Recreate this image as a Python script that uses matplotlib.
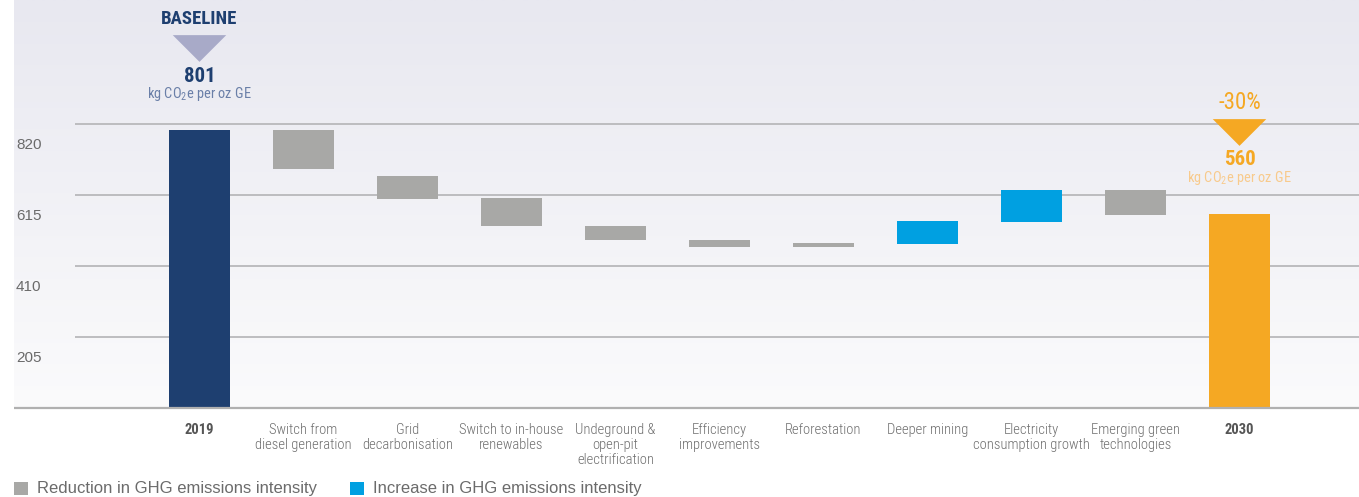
import numpy as np
import matplotlib
matplotlib.use("Agg")
import matplotlib.pyplot as plt
from matplotlib.patches import Rectangle
from matplotlib.path import Path
from matplotlib.transforms import ScaledTranslation, blended_transform_factory
from matplotlib import font_manager

# ---------------- data ----------------
categories = ["2019", "Switch from\ndiesel generation", "Grid\ndecarbonisation",
              "Switch to in-house\nrenewables", "Undeground &\nopen-pit\nelectrification",
              "Efficiency\nimprovements", "Reforestation", "Deeper mining",
              "Electricity\nconsumption growth", "Emerging green\ntechnologies", "2030"]
bar_low = [0, 690, 603, 525, 485, 465, 465, 473, 537, 557, 0]
bar_high = [801, 801, 669, 606, 525, 485, 476, 540, 629, 629, 560]
kinds = ["baseline", "reduction", "reduction", "reduction", "reduction", "reduction",
         "reduction", "increase", "increase", "reduction", "target"]
y_ticks = [205, 410, 615, 820]
baseline_value = "801"
target_value = "560"
target_change = "-30%"
unit_label = "kg CO$_2$e per oz GE"
legend_labels = ["Reduction in GHG emissions intensity", "Increase in GHG emissions intensity"]

# ---------------- style ----------------
avail = {f.name for f in font_manager.fontManager.ttflist}
COND = "Roboto Condensed" if "Roboto Condensed" in avail else "Liberation Sans"
REG = "Liberation Sans"
plt.rcParams["font.family"] = [COND, "DejaVu Sans"]
plt.rcParams["mathtext.fontset"] = "custom"
plt.rcParams["mathtext.rm"] = COND
plt.rcParams["mathtext.default"] = "rm"

colors = {"baseline": "#1e3f70", "reduction": "#a8a8a6", "increase": "#00a0e1", "target": "#f5a823"}
NAVY = "#1e3f70"
ORANGE = "#f5a823"

W, H = 1359, 497
fig = plt.figure(figsize=(W / 100, H / 100), dpi=100)
fig.patch.set_facecolor("white")

base_px = 408          # baseline pixel row
scale = 0.3466         # pixels per unit
left_px = 14
x0_px, dx_px = 199.5, 104.0
ymax = base_px / scale
xmin = (left_px - x0_px) / dx_px
xmax = (W - x0_px) / dx_px

ax = fig.add_axes([left_px / W, (H - base_px) / H, 1 - left_px / W, base_px / H])
ax.set_xlim(xmin, xmax)
ax.set_ylim(0, ymax)
ax.axis("off")

# gradient background
top_c = np.array([232, 232, 240]) / 255
bot_c = np.array([251, 251, 252]) / 255
t = np.linspace(0, 1, 256)[:, None]
grad = top_c[None, :] * (1 - t) + bot_c[None, :] * t
grad = np.repeat(grad[:, None, :], 2, axis=1)
ax.imshow(grad, extent=[xmin, xmax, 0, ymax], aspect="auto", zorder=0, interpolation="bilinear")

# gridlines
grid_start = (75 - x0_px) / dx_px
ax.hlines(y_ticks, grid_start, xmax, colors="#b8b8bb", linewidth=1.3, zorder=1)
ax.hlines([0], xmin, xmax, colors="#b0b0b0", linewidth=1.6, zorder=3, clip_on=False)

# y tick labels (drawn below their gridlines, as in the reference)
ylab_tr = blended_transform_factory(fig.transFigure, ax.transData) + \
    ScaledTranslation(0, -21 / 100, fig.dpi_scale_trans)
for v in y_ticks:
    ax.text(16 / W, v, str(v), transform=ylab_tr, ha="left", va="center",
            fontsize=11, color="#6a6a6a", family=[REG, "DejaVu Sans"])

# bars
x = np.arange(len(categories))
heights = [h - l for h, l in zip(bar_high, bar_low)]
ax.bar(x, heights, bottom=bar_low, width=61 / dx_px,
       color=[colors[k] for k in kinds], zorder=2, linewidth=0)

# category labels
lab_tr = ax.transData + ScaledTranslation(0, -15 / 100, fig.dpi_scale_trans)
for xi, (cat, k) in enumerate(zip(categories, kinds)):
    bold = k in ("baseline", "target")
    ax.text(xi, 0, cat, transform=lab_tr, ha="center", va="top", fontsize=10.5,
            linespacing=1.08, color="#555555" if bold else "#6e6e6e",
            fontweight="bold" if bold else 300)

# annotations above first and last bars
tri = Path([(-1, 0.5), (1, 0.5), (0, -0.5), (-1, 0.5)],
           [Path.MOVETO, Path.LINETO, Path.LINETO, Path.CLOSEPOLY])

def off(px):
    return ax.transData + ScaledTranslation(0, px / 100, fig.dpi_scale_trans)

def annotate(xi, top, head, head_color, head_weight, head_size, tri_color,
             value, value_color, unit_color):
    ax.text(xi, top, head, transform=off(111), ha="center", va="center",
            fontsize=head_size, fontweight=head_weight, color=head_color, clip_on=False)
    ax.plot([xi], [top], marker=tri, markersize=38.5, color=tri_color,
            markeredgewidth=0, transform=off(82), clip_on=False)
    ax.text(xi, top, value, transform=off(54), ha="center", va="center",
            fontsize=15, fontweight="bold", color=value_color, clip_on=False)
    ax.text(xi, top, unit_label, transform=off(36), ha="center", va="center",
            fontsize=10.4, color=unit_color, clip_on=False)

annotate(0, bar_high[0], "BASELINE", NAVY, "bold", 13.5, "#a8aac8",
         baseline_value, NAVY, "#6a7fa8")
annotate(len(categories) - 1, bar_high[-1], target_change, ORANGE, "normal", 16.5, ORANGE,
         target_value, ORANGE, "#f8ca8c")

# legend
def fy(py):
    return (H - py) / H

leg_items = [(14, 37, colors["reduction"], legend_labels[0]),
             (350, 373, colors["increase"], legend_labels[1])]
for sq_x, tx, c, lab in leg_items:
    fig.add_artist(Rectangle((sq_x / W, fy(495)), 14 / W, 13 / H, transform=fig.transFigure,
                             facecolor=c, edgecolor="none"))
    fig.text(tx / W, fy(489), lab, ha="left", va="center", fontsize=12, color="#6b6b6b",
             family=[REG, "DejaVu Sans"])

fig.savefig("out.png", dpi=100, facecolor="white")
